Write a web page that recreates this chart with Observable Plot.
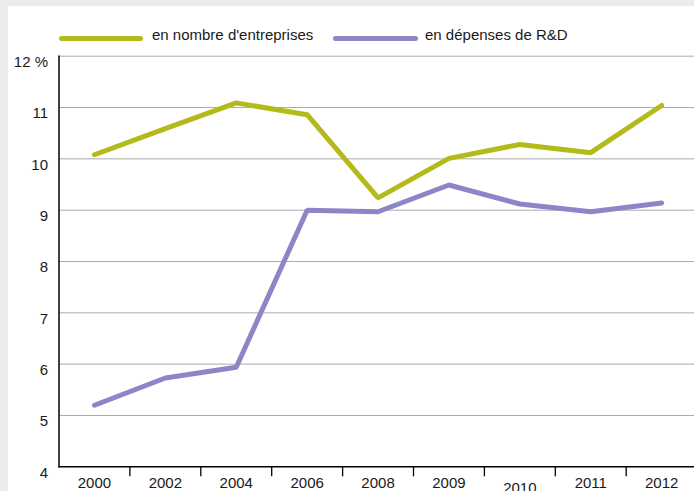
<!DOCTYPE html>
<html>
<head>
<meta charset="utf-8">
<script src="https://cdn.jsdelivr.net/npm/d3@7"></script>
<script src="https://cdn.jsdelivr.net/npm/@observablehq/plot@0.6"></script>
<style>
  html, body { margin: 0; padding: 0; }
  body { width: 694px; height: 491px; overflow: hidden; background: #ececec; position: relative;
         font-family: "Liberation Sans", Arial, sans-serif; }
  #panel { position: absolute; left: 8px; top: 6px; right: -20px; bottom: -20px; background: #ffffff; }
  #chart { position: absolute; left: 0; top: 0; }
  .sw { position: absolute; height: 5px; border-radius: 2.5px; }
  .lab { position: absolute; font-size: 15px; color: #1a1a1a; white-space: nowrap; line-height: normal; }
</style>
</head>
<body>
<div id="panel"></div>
<div id="legend"></div>
<div id="chart"></div>
<script>
const years = ["2000", "2002", "2004", "2006", "2008", "2009", "2010", "2011", "2012"];
const entreprises = [10.08, 10.59, 11.09, 10.86, 9.24, 10.01, 10.28, 10.12, 11.04];
const depenses = [5.20, 5.73, 5.94, 9.00, 8.97, 9.49, 9.12, 8.97, 9.14];
const seriesNames = ["en nombre d'entreprises", "en dépenses de R&D"];
const seriesColors = ["#b3ba1a", "#8d86c6"];
const yTicks = [4, 5, 6, 7, 8, 9, 10, 11, 12];

const rows = [];
years.forEach((yr, i) => {
  rows.push({year: yr, value: entreprises[i], series: seriesNames[0]});
});
years.forEach((yr, i) => {
  rows.push({year: yr, value: depenses[i], series: seriesNames[1]});
});

// Legend (HTML)
const legend = document.getElementById("legend");
const legendPos = [{sw: 59, w: 84, tx: 152}, {sw: 333, w: 85, tx: 425}];
seriesNames.forEach((name, i) => {
  const s = document.createElement("div");
  s.className = "sw";
  s.style.left = legendPos[i].sw + "px";
  s.style.top = "35.5px";
  s.style.width = legendPos[i].w + "px";
  s.style.background = seriesColors[i];
  legend.appendChild(s);
  const t = document.createElement("div");
  t.className = "lab";
  t.style.left = legendPos[i].tx + "px";
  t.style.top = "26px";
  t.textContent = name;
  legend.appendChild(t);
});

const W = 700, H = 491;
const mL = 58.5, mT = 55.7, mB = 24.7;
const bandW = 70.9;
const mR = W - (mL + bandW * years.length);

const chart = Plot.plot({
  width: W,
  height: H,
  marginLeft: mL,
  marginRight: mR,
  marginTop: mT,
  marginBottom: mB,
  style: "background: transparent; max-width: none; overflow: visible; font-family: 'Liberation Sans', Arial, sans-serif; font-size: 15px; color: #1a1a1a;",
  x: {type: "band", domain: years, padding: 0, round: false, axis: null, label: null},
  y: {domain: [4, 12], axis: null, label: null},
  color: {domain: seriesNames, range: seriesColors},
  marks: [
    Plot.gridY(yTicks.slice(1), {stroke: "#ababab", strokeOpacity: 1, strokeWidth: 1}),
    Plot.axisY(yTicks, {
      label: null, tickSize: 0, tickPadding: 11, dy: 6, fontSize: 15, fill: "#1a1a1a",
      tickFormat: d => d === 12 ? "12 %" : String(d)
    }),
    Plot.axisX(years.filter(y => y !== "2010"), {label: null, tickSize: 0, tickPadding: 10.5, fontSize: 15, fill: "#1a1a1a"}),
    Plot.axisX(["2010"], {label: null, tickSize: 0, tickPadding: 15.5, fontSize: 15, fill: "#1a1a1a"}),
    Plot.axisX(years.slice(1), {label: null, text: null, tickSize: 10, dx: -bandW / 2, stroke: "#000", strokeWidth: 1.3}),
    Plot.line(rows, {
      x: "year", y: "value", z: "series", stroke: "series",
      strokeWidth: 5, strokeLinecap: "round", strokeLinejoin: "miter"
    }),
    Plot.ruleY([4], {stroke: "#000", strokeWidth: 1.5}),
    Plot.frame({anchor: "left", stroke: "#000", strokeWidth: 1.5})
  ]
});
document.getElementById("chart").appendChild(chart);
</script>
</body>
</html>
